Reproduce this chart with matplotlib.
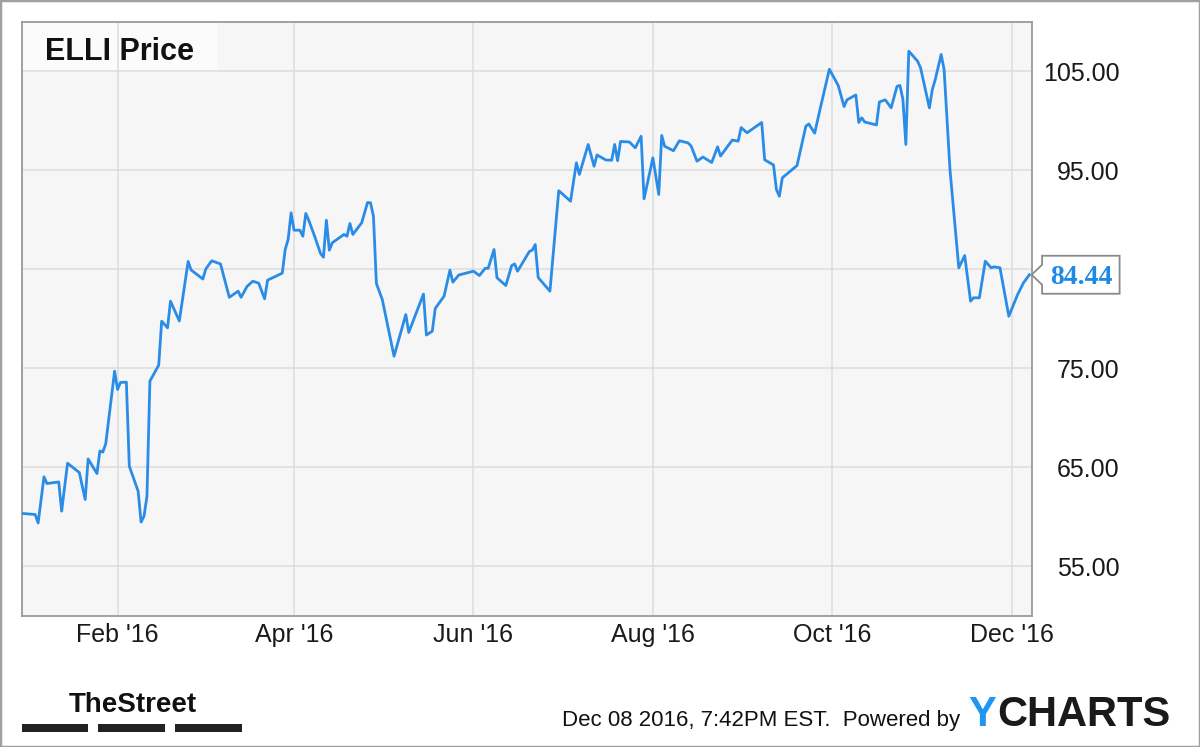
import matplotlib
matplotlib.use('Agg')
import matplotlib.pyplot as plt
import matplotlib.dates as mdates
from matplotlib.ticker import FixedLocator, FixedFormatter
from matplotlib.patches import Polygon, Rectangle
from matplotlib.transforms import IdentityTransform
import pandas as pd

# ---------------- data ----------------
dates = [
    "2015-12-31", "2016-01-04", "2016-01-05", "2016-01-07", "2016-01-08", "2016-01-12", "2016-01-13",
    "2016-01-15", "2016-01-19", "2016-01-21", "2016-01-22", "2016-01-25", "2016-01-26", "2016-01-27",
    "2016-01-28", "2016-01-31",
    "2016-02-01", "2016-02-02", "2016-02-04", "2016-02-05", "2016-02-08", "2016-02-09", "2016-02-10",
    "2016-02-11", "2016-02-12", "2016-02-15", "2016-02-16", "2016-02-18", "2016-02-19", "2016-02-22",
    "2016-02-25", "2016-02-26",
    "2016-03-01", "2016-03-02", "2016-03-04", "2016-03-07", "2016-03-10", "2016-03-13", "2016-03-14",
    "2016-03-16", "2016-03-18", "2016-03-20", "2016-03-22", "2016-03-23", "2016-03-28", "2016-03-29",
    "2016-03-30", "2016-03-31",
    "2016-04-01", "2016-04-03", "2016-04-04", "2016-04-05", "2016-04-06", "2016-04-08", "2016-04-10",
    "2016-04-11", "2016-04-12", "2016-04-13", "2016-04-14", "2016-04-18", "2016-04-19", "2016-04-20",
    "2016-04-21", "2016-04-24", "2016-04-26", "2016-04-27", "2016-04-28", "2016-04-29",
    "2016-05-01", "2016-05-05", "2016-05-09", "2016-05-10", "2016-05-15", "2016-05-16", "2016-05-18",
    "2016-05-19", "2016-05-22", "2016-05-24", "2016-05-25", "2016-05-27",
    "2016-06-01", "2016-06-03", "2016-06-05", "2016-06-06", "2016-06-08", "2016-06-09", "2016-06-12",
    "2016-06-14", "2016-06-15", "2016-06-16", "2016-06-20", "2016-06-21", "2016-06-22", "2016-06-23",
    "2016-06-27", "2016-06-30",
    "2016-07-04", "2016-07-06", "2016-07-07", "2016-07-10", "2016-07-12", "2016-07-13", "2016-07-16",
    "2016-07-18", "2016-07-19", "2016-07-20", "2016-07-21", "2016-07-24", "2016-07-26", "2016-07-28",
    "2016-07-29",
    "2016-08-01", "2016-08-03", "2016-08-04", "2016-08-05", "2016-08-08", "2016-08-10", "2016-08-13",
    "2016-08-14", "2016-08-16", "2016-08-18", "2016-08-21", "2016-08-23", "2016-08-24", "2016-08-28",
    "2016-08-30", "2016-08-31",
    "2016-09-02", "2016-09-07", "2016-09-08", "2016-09-11", "2016-09-12", "2016-09-13", "2016-09-14",
    "2016-09-19", "2016-09-22", "2016-09-23", "2016-09-25", "2016-09-27", "2016-09-30",
    "2016-10-03", "2016-10-05", "2016-10-06", "2016-10-09", "2016-10-10", "2016-10-11", "2016-10-12",
    "2016-10-16", "2016-10-17", "2016-10-19", "2016-10-21", "2016-10-23", "2016-10-24", "2016-10-25",
    "2016-10-26", "2016-10-27", "2016-10-30", "2016-10-31",
    "2016-11-03", "2016-11-04", "2016-11-05", "2016-11-07", "2016-11-08", "2016-11-10", "2016-11-13",
    "2016-11-15", "2016-11-17", "2016-11-18", "2016-11-20", "2016-11-22", "2016-11-24", "2016-11-25",
    "2016-11-27", "2016-11-30",
    "2016-12-03", "2016-12-05", "2016-12-07",
]

prices = [
    60.32, 60.22, 59.36, 64.03, 63.35, 63.51, 60.56, 65.40, 64.46, 61.74, 65.83, 64.36, 66.64, 66.52,
    67.39, 74.70,
    72.85, 73.56, 73.59, 65.10, 62.58, 59.46, 60.05, 62.07, 73.69, 75.32, 79.75, 79.08, 81.77, 79.77,
    85.78, 84.92,
    84.01, 85.02, 85.85, 85.53, 82.16, 82.78, 82.16, 83.25, 83.79, 83.58, 82.01, 83.89, 84.60, 86.99,
    88.00, 90.70,
    88.94, 88.94, 88.33, 90.63, 89.95, 88.33, 86.59, 86.21, 89.95, 86.92, 87.67, 88.51, 88.33, 89.62,
    88.51, 89.69, 91.74, 91.71, 90.35, 83.56,
    81.94, 76.21, 80.42, 78.61, 82.49, 78.35, 78.74, 81.03, 82.27, 84.90, 83.69, 84.41,
    84.80, 84.36, 85.09, 85.09, 86.99, 84.13, 83.35, 85.37, 85.53, 84.80, 86.79, 86.92, 87.49, 84.16,
    82.78, 92.93,
    91.87, 95.75, 94.57, 97.60, 95.40, 96.54, 96.03, 96.01, 97.60, 95.96, 97.90, 97.85, 97.26, 98.43,
    92.11,
    96.25, 92.55, 98.51, 97.42, 96.97, 97.98, 97.75, 97.44, 95.91, 96.33, 95.78, 97.36, 96.43, 98.05,
    97.93, 99.31,
    98.78, 99.82, 96.05, 95.53, 93.05, 92.37, 94.23, 95.47, 99.44, 99.67, 98.74, 101.38, 105.20,
    103.56, 101.43, 102.11, 102.60, 99.82, 100.29, 99.87, 99.57, 101.89, 102.11, 101.30, 103.47,
    103.56, 102.14, 97.60, 107.02, 106.01, 105.34,
    101.30, 103.15, 104.16, 106.69, 105.17, 95.07, 85.14, 86.38, 81.77, 82.11, 82.11, 85.81, 85.14,
    85.24, 85.14, 80.25,
    82.44, 83.63, 84.44,
]

y_ticks = [55, 65, 75, 85, 95, 105]
# the 85.00 label sits under the last-price marker in the reference, so it is left blank
y_tick_labels = ["55.00", "65.00", "75.00", "", "95.00", "105.00"]
x_tick_months = [2, 4, 6, 8, 10, 12]
chart_title = "ELLI Price"
last_label = "84.44"
footer_text = "Dec 08 2016, 7:42PM EST.  Powered by"
brand_left = "TheStreet"
logo_y = "Y"
logo_rest = "CHARTS"

# ---------------- figure ----------------
W, H = 1200, 747
fig = plt.figure(figsize=(W / 100, H / 100), dpi=100)
fig.patch.set_facecolor('white')

ax_l, ax_r, ax_t, ax_b = 21.7, 1031.6, 21.7, 615.7
ax = fig.add_axes([ax_l / W, 1 - ax_b / H, (ax_r - ax_l) / W, (ax_b - ax_t) / H])
ax.set_facecolor('#f6f6f6')

x = pd.to_datetime(dates)
ax.plot(x, prices, color='#2a8ce6', lw=2.0, solid_joinstyle='round', zorder=3)

ax.set_xlim(pd.Timestamp('2015-12-30 10:00'), pd.Timestamp('2016-12-07 18:00'))
ax.set_ylim(50, 110)

ax.xaxis.set_major_locator(mdates.MonthLocator(bymonth=x_tick_months))
ax.xaxis.set_major_formatter(mdates.DateFormatter("%b '%y"))
ax.yaxis.set_major_locator(FixedLocator(y_ticks))
ax.yaxis.set_major_formatter(FixedFormatter(y_tick_labels))
ax.yaxis.tick_right()

ax.tick_params(axis='both', length=0, labelsize=18, labelcolor='#1a1a1a')
ax.tick_params(axis='x', pad=5.5)
ax.tick_params(axis='y', pad=63.5)
for lbl in ax.get_xticklabels() + ax.get_yticklabels():
    lbl.set_fontfamily('Liberation Sans')
for lbl in ax.get_yticklabels():
    lbl.set_horizontalalignment('right')

ax.grid(True, color='#dcdcdc', lw=1.1)
ax.set_axisbelow(True)
for s in ax.spines.values():
    s.set_color('#9a9a9a')
    s.set_linewidth(1.3)

# title box + title
tb_w = (217 - ax_l) / (ax_r - ax_l)
tb_h = (72 - ax_t) / (ax_b - ax_t)
ax.add_patch(Rectangle((0, 1 - tb_h), tb_w, tb_h, transform=ax.transAxes,
                       facecolor='#fbfbfb', edgecolor='none', zorder=0.3))
fig.text(45 / W, 1 - 60 / H, chart_title, fontsize=22, fontweight='bold',
         family='Liberation Sans', color='#111111', va='baseline', ha='left')

# last-price marker
x_right = ax.get_xlim()[1]
tx, ty = ax.transData.transform((x_right, prices[-1]))
box_off, box_w, half_h, notch = 10.5, 77.5, 19.0, 10.0
poly = Polygon([
    (tx, ty),
    (tx + box_off, ty + notch),
    (tx + box_off, ty + half_h),
    (tx + box_off + box_w, ty + half_h),
    (tx + box_off + box_w, ty - half_h),
    (tx + box_off, ty - half_h),
    (tx + box_off, ty - notch),
], closed=True, transform=IdentityTransform(), facecolor='white',
    edgecolor='#8a8a8a', lw=1.3, zorder=5)
fig.add_artist(poly)
fig.text(tx + box_off + box_w / 2, ty, last_label, transform=IdentityTransform(),
         ha='center', va='center_baseline', fontsize=20, fontweight='bold',
         family='Liberation Serif', color='#1e8ae6', zorder=6)

# footer: TheStreet logo
fig.text(133 / W, 1 - 712.5 / H, brand_left, fontsize=20, fontweight='bold',
         family=['Liberation Sans Narrow', 'Liberation Sans'], color='#111111',
         ha='center', va='baseline')
for x0, x1 in [(22, 88), (98, 165), (175, 242)]:
    fig.add_artist(Rectangle((x0 / W, 1 - 732 / H), (x1 - x0) / W, 8 / H,
                             transform=fig.transFigure, facecolor='#222222',
                             edgecolor='none'))

# footer text and YCHARTS logo
fig.text(960 / W, 1 - 726 / H, footer_text, fontsize=16, family='Liberation Sans',
         color='#111111', ha='right', va='baseline')
fig.text(968 / W, 1 - 726.5 / H, logo_y, fontsize=30, fontweight='bold',
         family='Liberation Sans', color='#2196f0', ha='left', va='baseline')
fig.text(997 / W, 1 - 726.5 / H, logo_rest, fontsize=30, fontweight='bold',
         family='Liberation Sans', color='#1a1a1a', ha='left', va='baseline')

# outer border
fig.add_artist(Rectangle((0, 0), 1, 1, transform=fig.transFigure, fill=False,
                         edgecolor='#a0a0a0', lw=2.5))

fig.savefig('out.png', dpi=100)
